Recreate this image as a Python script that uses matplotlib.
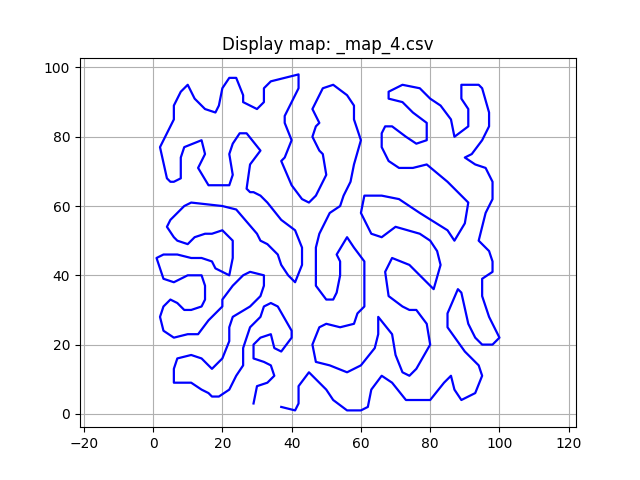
import matplotlib
matplotlib.use("Agg")
import matplotlib.pyplot as plt

# Route points, in drawing order
route_x = [37, 41, 42, 42, 45, 50, 52, 56, 60, 62, 63, 66, 69, 73, 80, 84, 86, 87, 89, 93, 95, 94, 90, 85, 85, 88, 89,
           91, 93, 95, 98, 100, 97, 95, 95, 98, 98, 97, 94, 95, 96, 98, 98, 96, 93, 90, 92, 95, 97, 97, 95, 94, 89,
           89, 91, 91, 87, 86, 83, 80, 77, 72, 68, 68, 72, 75, 79, 79, 76, 73, 69, 67, 66, 66, 68, 71, 75, 79,
           85, 91, 90, 87, 85, 77, 71, 66, 61, 60, 63, 66, 70, 77, 80, 82, 83, 81, 74, 69, 67, 68, 72, 74, 76, 79,
           80, 76, 74, 72, 70, 69, 65, 65, 64, 60, 56, 51, 47, 46, 48, 50, 54, 58, 59, 61, 61, 58, 56, 53, 54, 54,
           53, 52, 50, 47, 47, 48, 51, 54, 55, 57, 58, 60, 58, 58, 56, 52, 49, 46, 48, 47, 46, 48, 49, 50, 47, 45,
           43, 40, 37, 38, 40, 38, 38, 42, 42, 34, 32, 32, 30, 26, 26, 24, 22, 20, 19, 18, 15, 12, 10, 8, 6, 6,
           2, 4, 5, 6, 8, 8, 9, 14, 15, 13, 16, 22, 23, 22, 23, 25, 27, 31, 28, 27, 28, 29, 31, 33, 37, 41,
           43, 43, 41, 39, 37, 36, 33, 31, 30, 24, 20, 11, 9, 5, 4, 6, 7, 10, 12, 15, 17, 20, 23, 23, 22, 18,
           17, 14, 11, 7, 3, 1, 3, 6, 10, 14, 15, 15, 14, 11, 9, 7, 5, 3, 2, 3, 6, 10, 13, 16, 20, 20, 23, 26,
           28, 32, 32, 31, 28, 23, 22, 22, 20, 17, 14, 11, 7, 6, 6, 11, 14, 16, 17, 19, 22, 24, 26, 26, 28, 31,
           32, 34, 36, 40, 40, 37, 35, 34, 31, 29, 29, 32, 34, 35, 33, 30, 29]
route_y = [2, 1, 3, 8, 12, 7, 4, 1, 1, 2, 7, 11, 9, 4, 4, 9, 11, 7, 4, 6, 11, 14, 18, 25, 29, 36, 35,
           26, 22, 20, 20, 22, 28, 34, 39, 41, 44, 47, 50, 54, 58, 62, 67, 71, 72, 74, 75, 79, 83, 87, 94, 95, 95,
           91, 88, 83, 80, 85, 89, 91, 94, 95, 93, 91, 90, 87, 84, 79, 78, 80, 83, 83, 81, 77, 73, 71, 71, 72,
           67, 61, 55, 50, 53, 58, 62, 63, 63, 58, 52, 51, 54, 52, 50, 47, 43, 36, 43, 45, 41, 34, 31, 30, 30, 26,
           20, 13, 11, 12, 17, 23, 28, 23, 19, 14, 12, 14, 15, 20, 25, 26, 25, 26, 29, 31, 44, 48, 51, 46, 44, 40,
           35, 33, 33, 37, 48, 52, 58, 60, 63, 67, 72, 79, 85, 89, 92, 95, 94, 88, 84, 83, 80, 76, 75, 69, 63, 61,
           62, 66, 73, 74, 79, 84, 86, 94, 98, 96, 94, 90, 88, 90, 92, 97, 97, 94, 89, 87, 88, 91, 95, 93, 89, 85,
           77, 68, 67, 67, 68, 74, 77, 79, 75, 71, 66, 66, 69, 75, 78, 81, 81, 76, 72, 65, 64, 64, 63, 61, 56, 53,
           48, 43, 38, 40, 43, 46, 49, 50, 52, 59, 60, 61, 60, 56, 54, 51, 50, 49, 51, 52, 52, 53, 50, 45, 40, 42,
           44, 45, 45, 46, 46, 45, 39, 38, 40, 40, 37, 33, 31, 30, 30, 32, 33, 31, 28, 24, 22, 23, 23, 27, 31, 33, 37, 40,
           41, 40, 37, 34, 31, 28, 25, 21, 16, 13, 16, 17, 16, 13, 9, 9, 7, 6, 5, 5, 7, 11, 14, 19, 25, 28,
           31, 32, 31, 24, 22, 18, 19, 23, 22, 20, 16, 15, 14, 11, 9, 8, 3]

plt.figure()
plt.title("Display map: _map_4.csv")
plt.plot(route_x, route_y, 'b-', linewidth=1.6)
plt.axis('equal')
plt.grid()
plt.savefig("out.png")
